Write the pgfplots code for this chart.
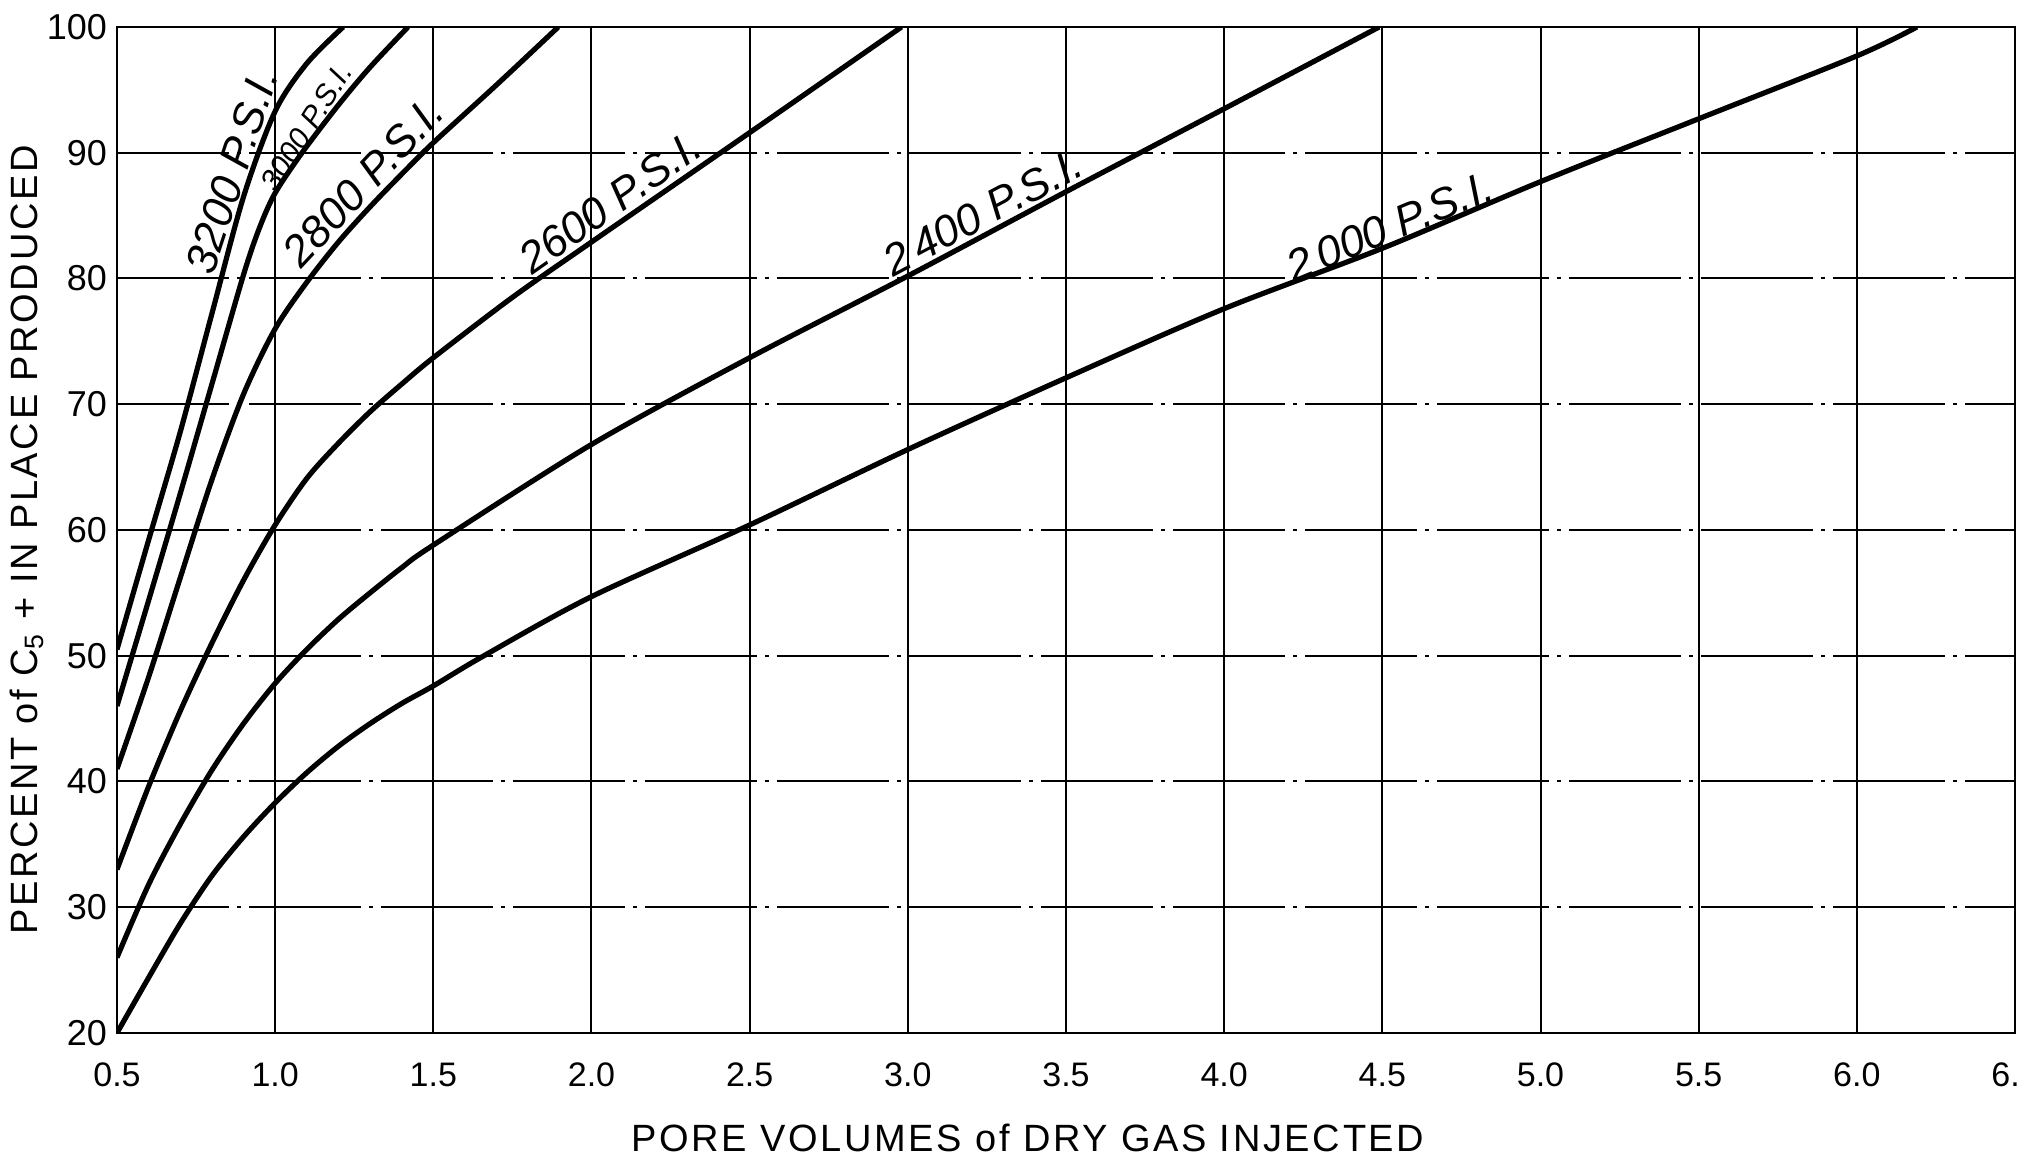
\documentclass[border=0pt]{standalone}
\usepackage{fontspec}
\setmainfont{Liberation Sans}
\newfontfamily\lblfont[LetterSpace=7]{Liberation Sans}
\usepackage{pgfplots}
\pgfplotsset{compat=1.18}
\usetikzlibrary{calc}

\begin{document}
\begin{tikzpicture}[curve/.style={black, solid, line width=1.3pt, smooth, mark=none}]
\begin{axis}[
  width=474.5pt, height=251.5pt, scale only axis,
  xmin=0.5, xmax=6.5, ymin=20, ymax=100,
  xtick={0.5,1,1.5,2,2.5,3,3.5,4,4.5,5,5.5,6,6.5},
  xticklabels={0.5,1.0,1.5,2.0,2.5,3.0,3.5,4.0,4.5,5.0,5.5,6.0,6.5},
  ytick={20,30,40,50,60,70,80,90,100},
  yticklabels={20,30,40,50,60,70,80,90,100},
  major tick length=0pt,
  grid=major,
  x grid style={black, line width=0.5pt},
  y grid style={black, line width=0.5pt, dash pattern=on 28pt off 2pt on 1pt off 2pt},
  axis line style={black, line width=0.6pt},
  xticklabel style={font=\fontsize{8.5}{10}\selectfont, yshift=-4pt},
  yticklabel style={font=\fontsize{9}{10}\selectfont, xshift=1pt},
  xlabel={PORE VOLUMES of DRY GAS INJECTED},
  ylabel={PERCENT of C\textsubscript{5} + IN PLACE PRODUCED},
  xlabel style={font=\lblfont\fontsize{9.5}{11}\selectfont, at={(axis description cs:0.48,-0.1044)}, anchor=center},
  ylabel style={font=\lblfont\fontsize{9.5}{11}\selectfont, at={(axis description cs:-0.0474,0.49)}, anchor=center},
]
% 2000 psi
\addplot[curve] coordinates {(0.5,20) (0.6,24.4) (0.7,28.7) (0.8,32.5) (0.9,35.6) (1.0,38.3) (1.1,40.7) (1.2,42.8) (1.3,44.6) (1.4,46.2) (1.5,47.6) (1.66,50) (2.0,54.7) (2.5,60.4) (3.0,66.4) (3.5,72.1) (4.0,77.6) (4.5,82.4) (5.0,87.7) (5.5,92.7) (6.0,97.7) (6.19,100)};
% 2400 psi
\addplot[curve] coordinates {(0.5,26) (0.6,31.8) (0.7,36.6) (0.8,40.9) (0.9,44.6) (1.0,47.8) (1.1,50.5) (1.2,52.9) (1.3,55.0) (1.4,57.0) (1.5,58.8) (2.0,66.8) (2.5,73.7) (3.0,80.2) (3.5,86.9) (4.0,93.5) (4.49,100)};
% 2600 psi
\addplot[curve] coordinates {(0.5,33) (0.6,39.6) (0.7,45.6) (0.8,51) (0.9,56) (1.0,60.4) (1.1,64.1) (1.2,66.9) (1.3,69.4) (1.4,71.6) (1.5,73.7) (1.75,78.5) (2.0,82.9) (2.5,91.6) (2.98,100)};
% 2800 psi
\addplot[curve] coordinates {(0.5,41) (0.6,48.3) (0.7,56.2) (0.8,64) (0.9,70.8) (1.0,76) (1.1,79.7) (1.2,82.9) (1.3,85.7) (1.4,88.3) (1.5,90.8) (1.7,95.4) (1.895,100)};
% 3000 psi
\addplot[curve] coordinates {(0.5,46) (0.6,54.4) (0.7,62.9) (0.8,71.6) (0.9,80.3) (0.95,84) (1.0,86.8) (1.085,90) (1.2,93.8) (1.3,96.8) (1.42,100)};
% 3200 psi
\addplot[curve] coordinates {(0.5,50.5) (0.6,59.2) (0.7,67.8) (0.8,77.2) (0.9,86.5) (1.0,93.3) (1.1,97.1) (1.215,100)};

\node[rotate=72, anchor=south, inner sep=1.5pt, font=\itshape\fontsize{11}{12}\selectfont] at (axis cs:0.93,88) {3200 P.S.I.};
\node[rotate=58, anchor=south, inner sep=1pt, font=\itshape\fontsize{7.5}{8}\selectfont] at (axis cs:1.14,91.4) {3000 P.S.I.};
\node[rotate=47, anchor=south, inner sep=1.5pt, font=\itshape\fontsize{11}{12}\selectfont] at (axis cs:1.33,86.5) {2800 P.S.I.};
\node[rotate=35, anchor=south, inner sep=1.5pt, font=\itshape\fontsize{11}{12}\selectfont] at (axis cs:2.1,84.6) {2600 P.S.I.};
\node[rotate=28, anchor=south, inner sep=1.5pt, font=\itshape\fontsize{11}{12}\selectfont] at (axis cs:3.27,83.7) {2\,400 P.S.I.};
\node[rotate=22.5, anchor=south, inner sep=1.5pt, font=\itshape\fontsize{11}{12}\selectfont] at (axis cs:4.55,82.5) {2\,000 P.S.I.};
\end{axis}
\pgfresetboundingbox
\path[use as bounding box] ($(current axis.south west)+(-29.25pt,-31.25pt)$) rectangle ($(current axis.north east)+(0.5pt,6.75pt)$);
\end{tikzpicture}
\end{document}
